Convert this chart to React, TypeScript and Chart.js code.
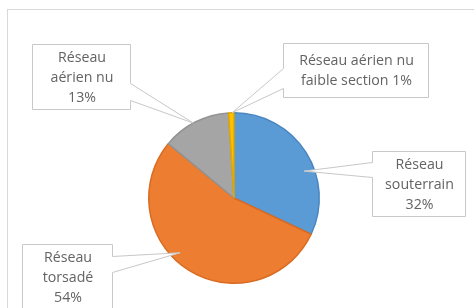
import React, { useEffect, useRef } from "react";
import { Chart, registerables } from "chart.js";

Chart.register(...registerables);

// ---- data ----
const categoryLines: string[][] = [
  ["Réseau", "souterrain"],
  ["Réseau", "torsadé"],
  ["Réseau", "aérien nu"],
  ["Réseau aérien nu", "faible section"],
];
const categories: string[] = categoryLines.map((l) => l.join(" "));
const values: number[] = [32, 54, 13, 1];
const colors: string[] = ["#5B9BD5", "#ED7D31", "#A5A5A5", "#FFC000"];
const edgeColors: string[] = ["#4A86C0", "#D96B22", "#939393", "#E0A800"];

// ---- callout layout (box rectangles, pointer base, tip angle on arc) ----
type Callout = {
  box: [number, number, number, number]; // x0,y0,x1,y1
  side: "left" | "right";
  base: [number, number]; // y range on box edge
  tipDeg: number; // angle from 12 o'clock, clockwise
  tipR: number; // fraction of outer radius
  pctInline: boolean;
};
const callouts: Callout[] = [
  { box: [372, 151, 465, 216], side: "left", base: [162, 177], tipDeg: 69, tipR: 0.88, pctInline: false },
  { box: [22, 244, 112, 330], side: "right", base: [256, 272], tipDeg: 224.5, tipR: 0.9, pctInline: false },
  { box: [32, 44, 130, 109], side: "right", base: [83, 100], tipDeg: 331.5, tipR: 1.0, pctInline: false },
  { box: [283, 43, 428, 97], side: "left", base: [68, 88], tipDeg: 358.7, tipR: 1.0, pctInline: true },
];

const FONT = '14.2px "Open Sans", "Noto Sans", sans-serif';
const TEXT_COLOR = "#636363";
const LINE_H = 20;

const calloutPlugin = {
  id: "callouts",
  beforeDraw(chart: any) {
    const ctx = chart.ctx;
    ctx.save();
    ctx.fillStyle = "#ffffff";
    ctx.fillRect(0, 0, chart.width, chart.height);
    ctx.strokeStyle = "#D9D9D9";
    ctx.lineWidth = 1;
    ctx.strokeRect(7.5, 9.5, chart.width + 10, chart.height + 10);
    ctx.restore();
  },
  afterDraw(chart: any) {
    const ctx = chart.ctx;
    const meta = chart.getDatasetMeta(0);
    const total = values.reduce((a, b) => a + b, 0);
    ctx.save();
    callouts.forEach((c, i) => {
      const arc = meta.data[i];
      if (!arc) return;
      const a = ((c.tipDeg - 90) * Math.PI) / 180;
      const tx = arc.x + arc.outerRadius * c.tipR * Math.cos(a);
      const ty = arc.y + arc.outerRadius * c.tipR * Math.sin(a);
      const [x0, y0, x1, y1] = c.box.map((v) => v + 0.5);
      const [b1, b2] = c.base.map((v) => v + 0.5);
      ctx.beginPath();
      if (c.side === "left") {
        ctx.moveTo(x0, y0);
        ctx.lineTo(x1, y0);
        ctx.lineTo(x1, y1);
        ctx.lineTo(x0, y1);
        ctx.lineTo(x0, b2);
        ctx.lineTo(tx, ty);
        ctx.lineTo(x0, b1);
        ctx.closePath();
      } else {
        ctx.moveTo(x0, y0);
        ctx.lineTo(x1, y0);
        ctx.lineTo(x1, b1);
        ctx.lineTo(tx, ty);
        ctx.lineTo(x1, b2);
        ctx.lineTo(x1, y1);
        ctx.lineTo(x0, y1);
        ctx.closePath();
      }
      ctx.fillStyle = "#ffffff";
      ctx.fill();
      ctx.strokeStyle = "#C8C8C8";
      ctx.lineWidth = 1;
      ctx.stroke();

      const pct = Math.round((values[i] / total) * 100) + "%";
      const lines = [...categoryLines[i]];
      if (c.pctInline) lines[lines.length - 1] += " " + pct;
      else lines.push(pct);
      ctx.fillStyle = TEXT_COLOR;
      ctx.font = FONT;
      ctx.textAlign = "center";
      ctx.textBaseline = "middle";
      const cx = (c.box[0] + c.box[2]) / 2;
      const startY = c.box[1] + 14 + (c.pctInline ? 4 : 0);
      lines.forEach((ln, k) => ctx.fillText(ln, cx + 1, startY + k * LINE_H));
    });
    ctx.restore();
  },
};

export default function App() {
  const ref = useRef<HTMLCanvasElement | null>(null);
  useEffect(() => {
    if (!ref.current) return;
    const chart = new Chart(ref.current, {
      type: "pie",
      data: {
        labels: categories,
        datasets: [
          {
            data: values,
            backgroundColor: colors,
            borderColor: edgeColors,
            borderWidth: 1.5,
          },
        ],
      },
      options: {
        animation: false,
        responsive: false,
        layout: { padding: { top: 112, bottom: 24, left: 148, right: 154 } },
        plugins: {
          legend: { display: false },
          tooltip: { enabled: false },
        },
      },
      plugins: [calloutPlugin],
    });
    return () => chart.destroy();
  }, []);
  return (
    <div style={{ position: "fixed", left: 0, top: 0, width: 474, height: 308, background: "#fff" }}>
      <canvas ref={ref} width={474} height={308} style={{ width: 474, height: 308 }} />
    </div>
  );
}
